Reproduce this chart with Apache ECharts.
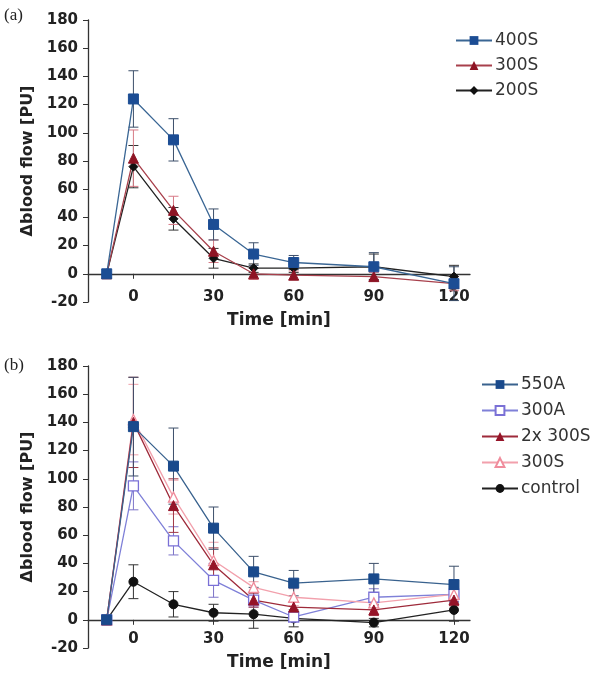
<!DOCTYPE html>
<html>
<head>
<meta charset="utf-8">
<script src="https://cdn.jsdelivr.net/npm/echarts@6/dist/echarts.min.js"></script>
<style>
  html, body { margin: 0; padding: 0; background: #fff; }
  #chartA { position: absolute; left: 0; top: 0; width: 594px; height: 340px; }
  #chartB { position: absolute; left: 0; top: 340px; width: 594px; height: 333px; }
</style>
</head>
<body>
<div id="chartA"></div>
<div id="chartB"></div>
<script>
// time points (min), shared by both panels
const time = [-10, 0, 15, 30, 45, 60, 90, 120]
const xTicks = [0, 30, 60, 90, 120]

// panel (a): mean and error (+/-)
const a400S = [0, 124, 95, 35, 14, 8, 5, -7]
const a400SErr = [0, 20, 15, 11, 8, 5, 10, 12]
const a300S = [0, 82, 45, 16, 0, -1, -2, -7]
const a300SErr = [0, 20, 10, 8, 4, 3, 3, 5]
const a200S = [0, 76, 39, 11, 4, 4, 5, -2]
const a200SErr = [0, 15, 8, 7, 3, 3, 9, 8]

// panel (b)
const b550A = [0, 137, 109, 65, 34, 26, 29, 25]
const b550AErr = [0, 35, 27, 15, 11, 9, 11, 13]
const b300A = [0, 95, 56, 28, 14, 2, 16, 18]
const b300AErr = [0, 17, 10, 12, 5, 3, 6, 5]
const b2x300S = [0, 140, 81, 39, 14, 9, 7, 14]
const b2x300SErr = [0, 32, 19, 12, 5, 4, 4, 4]
const b300S = [0, 142, 87, 42, 23, 16, 12, 18]
const b300SErr = [0, 25, 12, 13, 4, 6, 5, 4]
const bControl = [0, 27, 11, 5, 4, 1, -2, 7]
const bControlErr = [0, 12, 9, 6, 10, 6, 3, 8]

const font = '"DejaVu Sans", Arial, sans-serif'

const lineSeries = (name, vals, symbol, color, lineColor, size, filled) => ({
  name,
  type: 'line',
  data: time.map((t, i) => [t, vals[i]]),
  symbol,
  symbolSize: size,
  z: 3,
  lineStyle: { color: lineColor, width: 1.3 },
  itemStyle: filled
    ? { color: color, borderColor: color }
    : { color: '#fff', borderColor: color, borderWidth: 1.3 }
})

const errSeries = (vals, errs, color) => ({
  type: 'custom',
  z: 2,
  silent: true,
  data: time.map((t, i) => [t, vals[i] - errs[i], vals[i] + errs[i]]).filter((d, i) => errs[i] > 0),
  renderItem: (params, api) => {
    const lo = api.coord([api.value(0), api.value(1)])
    const hi = api.coord([api.value(0), api.value(2)])
    const w = 5
    const st = { stroke: color, lineWidth: 1 }
    return {
      type: 'group',
      children: [
        { type: 'line', shape: { x1: lo[0], y1: lo[1], x2: hi[0], y2: hi[1] }, style: st },
        { type: 'line', shape: { x1: lo[0] - w, y1: lo[1], x2: lo[0] + w, y2: lo[1] }, style: st },
        { type: 'line', shape: { x1: hi[0] - w, y1: hi[1], x2: hi[0] + w, y2: hi[1] }, style: st }
      ]
    }
  }
})

const baseOption = (gridTop, legendTop, legendLeft, legendNames, label, labelTop, labelMargin, nameGap) => ({
  animation: false,
  textStyle: { fontFamily: font },
  grid: { left: 88, top: gridTop, width: 382, height: 282, outerBoundsMode: 'none', containLabel: false },
  graphic: [{
    type: 'text', left: 4, top: labelTop,
    style: { text: label, font: '17px "Liberation Serif", "Times New Roman", serif', fill: '#222' }
  }],
  legend: {
    orient: 'vertical',
    left: legendLeft,
    top: legendTop,
    data: legendNames,
    itemWidth: 36,
    itemHeight: 11,
    itemGap: 8,
    textStyle: { fontSize: 17, color: '#333', fontFamily: font, padding: [0, 0, 0, -2] }
  },
  xAxis: {
    type: 'value',
    min: -17,
    max: 126,
    name: 'Time [min]',
    nameLocation: 'middle',
    nameGap: nameGap,
    nameTextStyle: { fontSize: 17, fontWeight: 'bold', color: '#222' },
    axisLine: { onZero: true, lineStyle: { color: '#333', width: 1.3 } },
    axisTick: { show: true, length: 5, customValues: xTicks, lineStyle: { color: '#333' } },
    // labels sit at the grid bottom in v6, so pull them up under the zero line
    axisLabel: { customValues: xTicks, fontSize: 15, fontWeight: 'bold', color: '#222', margin: labelMargin },
    splitLine: { show: false }
  },
  yAxis: {
    type: 'value',
    min: -20,
    max: 180,
    interval: 20,
    name: 'Δblood flow [PU]',
    nameLocation: 'middle',
    nameGap: 47,
    nameTextStyle: { fontSize: 16, fontWeight: 'bold', color: '#222' },
    axisLine: { show: true, onZero: false, lineStyle: { color: '#333', width: 1.3 } },
    axisTick: { show: true, length: 5, lineStyle: { color: '#333' } },
    axisLabel: { fontSize: 15, fontWeight: 'bold', color: '#222', margin: 10 },
    splitLine: { show: false }
  }
})

const chartA = echarts.init(document.getElementById('chartA'))
const optA = baseOption(20, 27, 450, ['400S', '300S', '200S'], '(a)', 7, -12, 10)
optA.series = [
  errSeries(a200S, a200SErr, '#333'),
  errSeries(a300S, a300SErr, '#d77a86'),
  errSeries(a400S, a400SErr, '#3c4f6a'),
  lineSeries('200S', a200S, 'diamond', '#111', '#222', 9, true),
  lineSeries('300S', a300S, 'triangle', '#8e1424', '#a8404c', 10, true),
  lineSeries('400S', a400S, 'rect', '#1c4d94', '#3a6694', 10, true)
]
chartA.setOption(optA)

const chartB = echarts.init(document.getElementById('chartB'))
const optB = baseOption(26, 31, 476, ['550A', '300A', '2x 300S', '300S', 'control'], '(b)', 17, -16, 6)
optB.legend.itemGap = 9
optB.series = [
  errSeries(bControl, bControlErr, '#333'),
  errSeries(b300A, b300AErr, '#7d74c8'),
  errSeries(b300S, b300SErr, '#eea0aa'),
  errSeries(b2x300S, b2x300SErr, '#a03846'),
  errSeries(b550A, b550AErr, '#3c4f6a'),
  lineSeries('control', bControl, 'circle', '#111', '#222', 9, true),
  lineSeries('300A', b300A, 'rect', '#7a70d6', '#7f80d8', 10, false),
  lineSeries('300S', b300S, 'triangle', '#f08c9c', '#f2a0ac', 10, false),
  lineSeries('2x 300S', b2x300S, 'triangle', '#951428', '#9e2a3a', 10, true),
  lineSeries('550A', b550A, 'rect', '#1a4a8c', '#39628e', 10, true)
]
chartB.setOption(optB)
</script>
</body>
</html>
